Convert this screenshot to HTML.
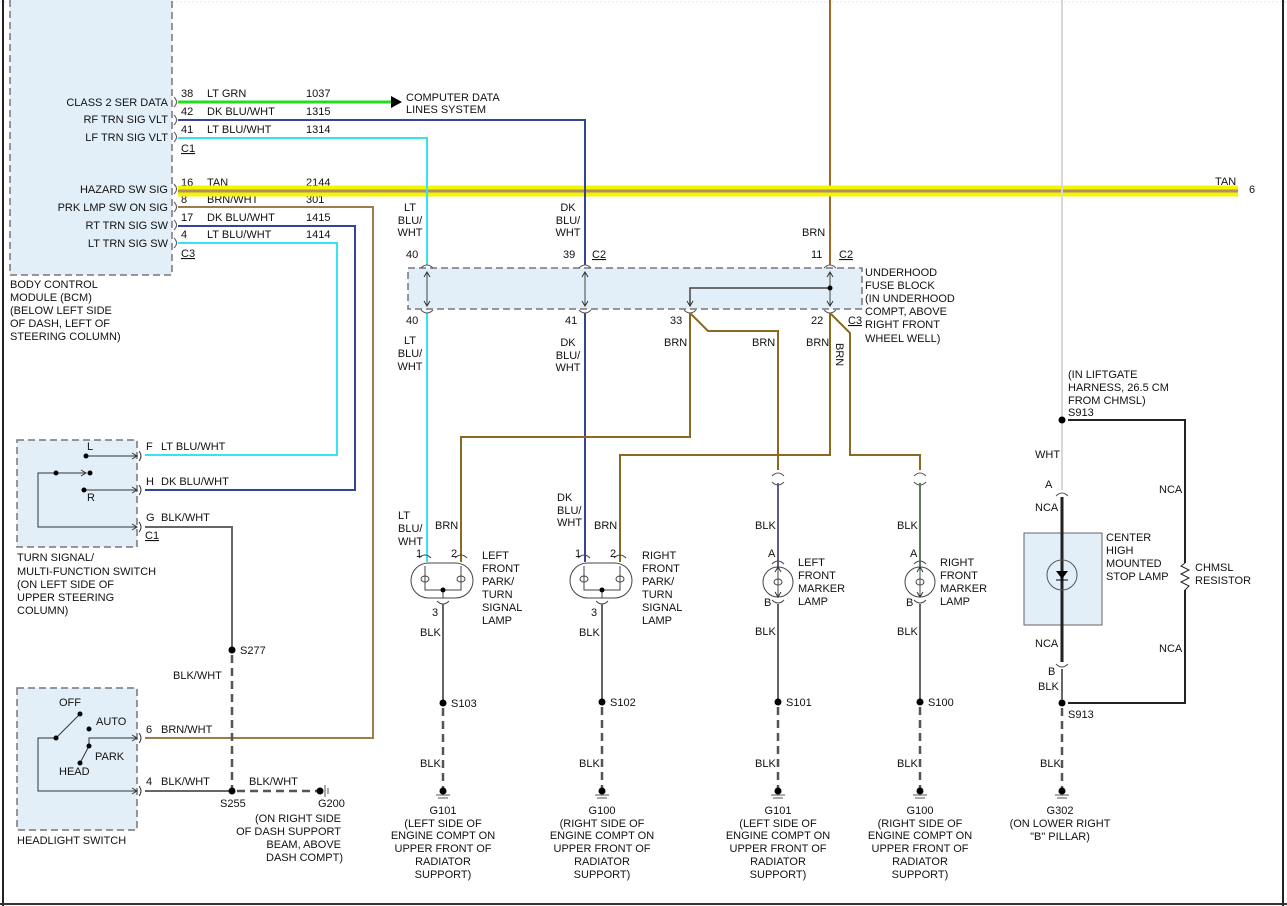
<!DOCTYPE html>
<html><head><meta charset="utf-8"><style>
html,body{margin:0;padding:0;background:#fff;}
svg{display:block;}
text{font-family:"Liberation Sans",sans-serif;font-size:11px;fill:#111;}
.r{text-anchor:end}
.m{text-anchor:middle}
</style></head><body>
<svg width="1287" height="906" viewBox="0 0 1287 906" xmlns="http://www.w3.org/2000/svg">
<defs>
<marker id="ah" markerWidth="8" markerHeight="8" refX="6" refY="4" orient="auto-start-reverse" markerUnits="userSpaceOnUse"><path d="M1,1 L6,4 L1,7" fill="none" stroke="#333" stroke-width="1"/></marker>
</defs>
<line x1="3" y1="0" x2="3" y2="906" stroke="#222" stroke-width="2"/>
<line x1="1283" y1="0" x2="1283" y2="906" stroke="#222" stroke-width="2"/>
<line x1="0" y1="904" x2="1287" y2="904" stroke="#333" stroke-width="2"/>
<line x1="0" y1="2" x2="1287" y2="2" stroke="#e8e0f0" stroke-width="1" stroke-dasharray="2,2"/>

<rect x="10" y="-2" width="162" height="277" fill="#e2eff8" stroke="#777" stroke-width="1.5" stroke-dasharray="7,4"/>
<rect x="408" y="268" width="454" height="41" fill="#e2eff8" stroke="#777" stroke-width="1.5" stroke-dasharray="7,4"/>
<rect x="17" y="440" width="120" height="107" fill="#e2eff8" stroke="#777" stroke-width="1.5" stroke-dasharray="7,4"/>
<rect x="17" y="688" width="120" height="142" fill="#e2eff8" stroke="#777" stroke-width="1.5" stroke-dasharray="7,4"/>
<rect x="1024" y="533" width="78" height="92" fill="#e2eff8" stroke="#666" stroke-width="1"/>

<text x="168" y="106" class="r">CLASS 2 SER DATA</text>
<text x="168" y="123" class="r">RF TRN SIG VLT</text>
<text x="168" y="141" class="r">LF TRN SIG VLT</text>
<text x="168" y="193" class="r">HAZARD SW SIG</text>
<text x="168" y="211" class="r">PRK LMP SW ON SIG</text>
<text x="168" y="229" class="r">RT TRN SIG SW</text>
<text x="168" y="247" class="r">LT TRN SIG SW</text>
<text x="10" y="288">BODY CONTROL</text>
<text x="10" y="301">MODULE (BCM)</text>
<text x="10" y="314">(BELOW LEFT SIDE</text>
<text x="10" y="327">OF DASH, LEFT OF</text>
<text x="10" y="340">STEERING COLUMN)</text>
<g fill="none" stroke="#555" stroke-width="1">
<path d="M174,97 q5,5 0,10"/><path d="M174,115 q5,5 0,10"/><path d="M174,132 q5,5 0,10"/>
<path d="M174,184 q5,5 0,10"/><path d="M174,202 q5,5 0,10"/><path d="M174,220 q5,5 0,10"/><path d="M174,238 q5,5 0,10"/>
</g>
<text x="181" y="97">38</text><text x="207" y="97">LT GRN</text><text x="306" y="97">1037</text>
<text x="181" y="115">42</text><text x="207" y="115">DK BLU/WHT</text><text x="306" y="115">1315</text>
<text x="181" y="133">41</text><text x="207" y="133">LT BLU/WHT</text><text x="306" y="133">1314</text>
<text x="181" y="152" text-decoration="underline">C1</text>
<text x="181" y="186">16</text><text x="207" y="186">TAN</text><text x="306" y="186">2144</text>
<text x="181" y="203">8</text><text x="207" y="203">BRN/WHT</text><text x="306" y="203">301</text>
<text x="181" y="221">17</text><text x="207" y="221">DK BLU/WHT</text><text x="306" y="221">1415</text>
<text x="181" y="238">4</text><text x="207" y="238">LT BLU/WHT</text><text x="306" y="238">1414</text>
<text x="181" y="257" text-decoration="underline">C3</text>

<line x1="830" y1="0" x2="830" y2="265" stroke="#a0692a" stroke-width="2"/>
<line x1="1062" y1="0" x2="1062" y2="418" stroke="#d8d8d8" stroke-width="2"/>

<line x1="178" y1="191" x2="1238" y2="191" stroke="#f5f500" stroke-width="11"/>
<line x1="178" y1="191" x2="1238" y2="191" stroke="#b09060" stroke-width="3"/>
<line x1="1062" y1="185" x2="1062" y2="197" stroke="#d8d8d8" stroke-width="2"/>
<text x="1215" y="185">TAN</text><text x="1249" y="193">6</text>

<line x1="178" y1="102" x2="392" y2="102" stroke="#22dd22" stroke-width="3"/>
<path d="M391,96 L402,102 L391,108 Z" fill="#000"/>
<text x="406" y="101">COMPUTER DATA</text>
<text x="406" y="113">LINES SYSTEM</text>

<polyline points="178,120 585,120 585,265" fill="none" stroke="#334499" stroke-width="2"/>
<line x1="585" y1="313" x2="585" y2="562" stroke="#334499" stroke-width="2"/>
<polyline points="178,138 427,138 427,265" fill="none" stroke="#33e5f0" stroke-width="2"/>
<line x1="427" y1="313" x2="427" y2="562" stroke="#33e5f0" stroke-width="2"/>
<polyline points="178,207 373,207 373,738 145,738" fill="none" stroke="#9a7d4a" stroke-width="2"/>
<polyline points="178,226 355,226 355,490 145,490" fill="none" stroke="#334499" stroke-width="2"/>
<polyline points="178,243 337,243 337,455 145,455" fill="none" stroke="#33e5f0" stroke-width="2"/>

<text x="410" y="211" class="m">LT</text><text x="410" y="224" class="m">BLU/</text><text x="410" y="236" class="m">WHT</text>
<text x="568" y="211" class="m">DK</text><text x="568" y="224" class="m">BLU/</text><text x="568" y="236" class="m">WHT</text>
<text x="802" y="236">BRN</text>
<text x="406" y="258">40</text><text x="563" y="258">39</text><text x="592" y="258" text-decoration="underline">C2</text>
<text x="811" y="258">11</text><text x="839" y="258" text-decoration="underline">C2</text>

<g fill="none" stroke="#555" stroke-width="1">
<path d="M421,268 q6,-6 12,0"/><path d="M579,268 q6,-6 12,0"/><path d="M824,268 q6,-6 12,0"/>
<path d="M421,310 q6,6 12,0"/><path d="M579,310 q6,6 12,0"/><path d="M684,310 q6,6 12,0"/><path d="M824,310 q6,6 12,0"/>
</g>
<g stroke="#444" stroke-width="1" fill="none">
<line x1="427" y1="272" x2="427" y2="306" marker-end="url(#ah)" marker-start="url(#ah)"/>
<line x1="585" y1="272" x2="585" y2="306" marker-end="url(#ah)" marker-start="url(#ah)"/>
<line x1="830" y1="272" x2="830" y2="306" marker-end="url(#ah)" marker-start="url(#ah)"/>
<polyline points="830,288 690,288 690,306" marker-end="url(#ah)" stroke-width="1.5"/>
</g>
<circle cx="830" cy="288" r="2.5" fill="#000"/>
<text x="865" y="276">UNDERHOOD</text><text x="865" y="289">FUSE BLOCK</text><text x="865" y="302">(IN UNDERHOOD</text>
<text x="865" y="315">COMPT, ABOVE</text><text x="865" y="328">RIGHT FRONT</text><text x="865" y="342">WHEEL WELL)</text>
<text x="406" y="324">40</text><text x="565" y="324">41</text><text x="670" y="324">33</text><text x="811" y="324">22</text>
<text x="848" y="324" text-decoration="underline">C3</text>

<g fill="none" stroke="#8a6a22" stroke-width="2">
<polyline points="690,313 708,331 778,331 778,470"/>
<polyline points="690,313 690,437 461,437 461,562"/>
<polyline points="830,313 830,455 620,455 620,562"/>
<polyline points="830,313 850,333 850,455 920,455 920,470"/>
</g>
<text x="410" y="344" class="m">LT</text><text x="410" y="357" class="m">BLU/</text><text x="410" y="370" class="m">WHT</text>
<text x="568" y="346" class="m">DK</text><text x="568" y="359" class="m">BLU/</text><text x="568" y="371" class="m">WHT</text>
<text x="664" y="346">BRN</text><text x="752" y="346">BRN</text><text x="806" y="346">BRN</text>
<text x="0" y="0" transform="translate(836,343) rotate(90)">BRN</text>

<g fill="none" stroke="#555" stroke-width="1">
<path d="M772,476 q6,-6 12,0"/><path d="M772,482 q6,6 12,0"/>
<path d="M914,476 q6,-6 12,0"/><path d="M914,482 q6,6 12,0"/>
</g>
<line x1="778" y1="483" x2="778" y2="567" stroke="#6a5a8a" stroke-width="2"/>
<line x1="920" y1="483" x2="920" y2="567" stroke="#5a7a5a" stroke-width="2"/>

<g fill="none" stroke="#444" stroke-width="1">
<rect x="411" y="563" width="62" height="35" rx="17.5"/>
<rect x="570" y="563" width="62" height="35" rx="17.5"/>
<path d="M419,558 q6,-6 12,0"/><path d="M455,558 q6,-6 12,0"/>
<path d="M578,558 q6,-6 12,0"/><path d="M614,558 q6,-6 12,0"/>
<path d="M437,601 q6,6 12,0"/><path d="M596,601 q6,6 12,0"/>
<polyline points="425,566 425,590 461,590 461,566"/>
<polyline points="584,566 584,590 620,590 620,566"/>
<ellipse cx="425" cy="579" rx="4" ry="3"/><ellipse cx="461" cy="579" rx="4" ry="3"/>
<ellipse cx="584" cy="579" rx="4" ry="3"/><ellipse cx="620" cy="579" rx="4" ry="3"/>
<line x1="443" y1="590" x2="443" y2="598"/><line x1="602" y1="590" x2="602" y2="598"/>
<circle cx="778" cy="582" r="15"/><circle cx="920" cy="582" r="15"/>
<ellipse cx="778" cy="582" rx="4" ry="3"/><ellipse cx="920" cy="582" rx="4" ry="3"/>
<path d="M772,564 q6,-6 12,0"/><path d="M772,600 q6,6 12,0"/>
<path d="M914,564 q6,-6 12,0"/><path d="M914,600 q6,6 12,0"/>
<line x1="778" y1="567" x2="778" y2="597" marker-end="url(#ah)" marker-start="url(#ah)"/>
<line x1="920" y1="567" x2="920" y2="597" marker-end="url(#ah)" marker-start="url(#ah)"/>
</g>
<circle cx="443" cy="590" r="2.5" fill="#000"/><circle cx="602" cy="590" r="2.5" fill="#000"/>

<text x="398" y="519">LT</text><text x="398" y="532">BLU/</text><text x="398" y="545">WHT</text><text x="435" y="529">BRN</text>
<text x="557" y="501">DK</text><text x="557" y="514">BLU/</text><text x="557" y="526">WHT</text><text x="594" y="529">BRN</text>
<text x="416" y="557">1</text><text x="451" y="557">2</text><text x="575" y="557">1</text><text x="610" y="557">2</text>
<text x="432" y="616">3</text><text x="591" y="616">3</text>
<text x="482" y="559">LEFT</text><text x="482" y="572">FRONT</text><text x="482" y="585">PARK/</text><text x="482" y="598">TURN</text><text x="482" y="611">SIGNAL</text><text x="482" y="624">LAMP</text>
<text x="642" y="559">RIGHT</text><text x="642" y="572">FRONT</text><text x="642" y="585">PARK/</text><text x="642" y="598">TURN</text><text x="642" y="611">SIGNAL</text><text x="642" y="624">LAMP</text>
<text x="755" y="529">BLK</text><text x="897" y="529">BLK</text>
<text x="768" y="557">A</text><text x="910" y="557">A</text>
<text x="764" y="606">B</text><text x="906" y="606">B</text>
<text x="798" y="566">LEFT</text><text x="798" y="579">FRONT</text><text x="798" y="592">MARKER</text><text x="798" y="605">LAMP</text>
<text x="940" y="566">RIGHT</text><text x="940" y="579">FRONT</text><text x="940" y="592">MARKER</text><text x="940" y="605">LAMP</text>

<g stroke="#666" stroke-width="2">
<line x1="443" y1="604" x2="443" y2="703"/><line x1="602" y1="604" x2="602" y2="702"/>
<line x1="778" y1="604" x2="778" y2="702"/><line x1="920" y1="604" x2="920" y2="702"/>
</g>
<g stroke="#555" stroke-width="2.5" stroke-dasharray="8,5">
<line x1="443" y1="708" x2="443" y2="788"/><line x1="602" y1="707" x2="602" y2="788"/>
<line x1="778" y1="707" x2="778" y2="788"/><line x1="920" y1="707" x2="920" y2="788"/>
<line x1="1062" y1="708" x2="1062" y2="788"/>
</g>
<g fill="#000">
<circle cx="443" cy="703" r="3.5"/><circle cx="602" cy="702" r="3.5"/><circle cx="778" cy="702" r="3.5"/><circle cx="920" cy="702" r="3.5"/>
<circle cx="443" cy="791" r="3.5"/><circle cx="602" cy="791" r="3.5"/><circle cx="778" cy="791" r="3.5"/><circle cx="920" cy="791" r="3.5"/><circle cx="1062" cy="791" r="3.5"/>
</g>
<g stroke="#555" stroke-width="1">
<line x1="436" y1="795" x2="450" y2="795"/><line x1="438" y1="798" x2="448" y2="798"/>
<line x1="595" y1="795" x2="609" y2="795"/><line x1="597" y1="798" x2="607" y2="798"/>
<line x1="771" y1="795" x2="785" y2="795"/><line x1="773" y1="798" x2="783" y2="798"/>
<line x1="913" y1="795" x2="927" y2="795"/><line x1="915" y1="798" x2="925" y2="798"/>
<line x1="1055" y1="795" x2="1069" y2="795"/><line x1="1057" y1="798" x2="1067" y2="798"/>
</g>
<text x="420" y="636">BLK</text><text x="579" y="636">BLK</text><text x="755" y="635">BLK</text><text x="897" y="635">BLK</text>
<text x="451" y="707">S103</text><text x="610" y="706">S102</text><text x="786" y="706">S101</text><text x="928" y="706">S100</text>
<text x="420" y="767">BLK</text><text x="579" y="767">BLK</text><text x="755" y="767">BLK</text><text x="897" y="767">BLK</text>
<text x="443" y="814" class="m">G101</text><text x="443" y="827" class="m">(LEFT SIDE OF</text><text x="443" y="839" class="m">ENGINE COMPT ON</text><text x="443" y="852" class="m">UPPER FRONT OF</text><text x="443" y="865" class="m">RADIATOR</text><text x="443" y="878" class="m">SUPPORT)</text>
<text x="602" y="814" class="m">G100</text><text x="602" y="827" class="m">(RIGHT SIDE OF</text><text x="602" y="839" class="m">ENGINE COMPT ON</text><text x="602" y="852" class="m">UPPER FRONT OF</text><text x="602" y="865" class="m">RADIATOR</text><text x="602" y="878" class="m">SUPPORT)</text>
<text x="778" y="814" class="m">G101</text><text x="778" y="827" class="m">(LEFT SIDE OF</text><text x="778" y="839" class="m">ENGINE COMPT ON</text><text x="778" y="852" class="m">UPPER FRONT OF</text><text x="778" y="865" class="m">RADIATOR</text><text x="778" y="878" class="m">SUPPORT)</text>
<text x="920" y="814" class="m">G100</text><text x="920" y="827" class="m">(RIGHT SIDE OF</text><text x="920" y="839" class="m">ENGINE COMPT ON</text><text x="920" y="852" class="m">UPPER FRONT OF</text><text x="920" y="865" class="m">RADIATOR</text><text x="920" y="878" class="m">SUPPORT)</text>
<text x="1060" y="814" class="m">G302</text><text x="1060" y="827" class="m">(ON LOWER RIGHT</text><text x="1060" y="840" class="m">"B" PILLAR)</text>

<text x="1068" y="378">(IN LIFTGATE</text><text x="1068" y="391">HARNESS, 26.5 CM</text><text x="1068" y="404">FROM CHMSL)</text>
<text x="1068" y="416">S913</text>
<circle cx="1062" cy="420" r="3.5" fill="#000"/>
<polyline points="1068,420 1185,420 1185,563" fill="none" stroke="#222" stroke-width="2"/>
<polyline points="1185,563 1181,566 1189,570 1181,574 1189,578 1181,582 1189,586 1185,590" fill="none" stroke="#222" stroke-width="1"/>
<polyline points="1185,590 1185,703 1068,703" fill="none" stroke="#222" stroke-width="2"/>
<circle cx="1062" cy="703" r="3.5" fill="#000"/>
<line x1="1062" y1="424" x2="1062" y2="490" stroke="#d8d8d8" stroke-width="2"/>
<g fill="none" stroke="#555" stroke-width="1"><path d="M1056,496 q6,-6 12,0"/><path d="M1056,664 q6,6 12,0"/></g>
<line x1="1062" y1="497" x2="1062" y2="662" stroke="#222" stroke-width="3"/>
<line x1="1062" y1="669" x2="1062" y2="700" stroke="#666" stroke-width="2"/>
<circle cx="1062" cy="575" r="15" fill="none" stroke="#555" stroke-width="1"/>
<path d="M1056,571 L1068,571 L1062,579 Z" fill="#000"/><line x1="1056" y1="580" x2="1068" y2="580" stroke="#000"/>
<text x="1035" y="458">WHT</text><text x="1045" y="488">A</text><text x="1035" y="511">NCA</text>
<text x="1106" y="541">CENTER</text><text x="1106" y="554">HIGH</text><text x="1106" y="567">MOUNTED</text><text x="1106" y="580">STOP LAMP</text>
<text x="1159" y="493">NCA</text><text x="1159" y="652">NCA</text>
<text x="1195" y="571">CHMSL</text><text x="1195" y="584">RESISTOR</text>
<text x="1035" y="647">NCA</text><text x="1048" y="675">B</text><text x="1038" y="690">BLK</text>
<text x="1068" y="718">S913</text><text x="1040" y="767">BLK</text>

<g fill="none" stroke="#333" stroke-width="1">
<polyline points="86,456 137,456" marker-end="url(#ah)"/>
<polyline points="84,490 137,490" marker-end="url(#ah)"/>
<polyline points="56,473 38,473 38,527 137,527" marker-end="url(#ah)"/>
<line x1="56" y1="473" x2="86" y2="473" marker-end="url(#ah)"/>
<path d="M139,451 q4,5 0,10"/><path d="M139,485 q4,5 0,10"/><path d="M139,522 q4,5 0,10"/>
</g>
<g fill="#000"><circle cx="86" cy="456" r="2.5"/><circle cx="56" cy="473" r="2.5"/><circle cx="90" cy="473" r="2.5"/><circle cx="84" cy="490" r="2.5"/></g>
<text x="87" y="450">L</text><text x="87" y="501">R</text>
<text x="146" y="450">F</text><text x="161" y="450">LT BLU/WHT</text>
<text x="146" y="485">H</text><text x="161" y="485">DK BLU/WHT</text>
<text x="146" y="521">G</text><text x="161" y="521">BLK/WHT</text>
<text x="145" y="539" text-decoration="underline">C1</text>
<text x="17" y="561">TURN SIGNAL/</text><text x="17" y="575">MULTI-FUNCTION SWITCH</text><text x="17" y="588">(ON LEFT SIDE OF</text><text x="17" y="601">UPPER STEERING</text><text x="17" y="614">COLUMN)</text>
<polyline points="145,527 232,527 232,650" fill="none" stroke="#666" stroke-width="2"/>
<circle cx="232" cy="650" r="3.5" fill="#000"/>
<text x="240" y="654">S277</text>
<text x="173" y="679">BLK/WHT</text>
<line x1="232" y1="655" x2="232" y2="788" stroke="#555" stroke-width="2.5" stroke-dasharray="8,5"/>

<g fill="none" stroke="#333" stroke-width="1">
<line x1="56" y1="738" x2="80" y2="714"/>
<polyline points="56,738 38,738 38,791 137,791" marker-end="url(#ah)"/>
<polyline points="89,746 89,738 137,738" marker-end="url(#ah)"/>
<line x1="80" y1="763" x2="89" y2="746"/>
<path d="M139,733 q4,5 0,10"/><path d="M139,786 q4,5 0,10"/>
</g>
<g fill="#000"><circle cx="80" cy="714" r="2.5"/><circle cx="56" cy="738" r="2.5"/><circle cx="89" cy="729" r="2.5"/><circle cx="89" cy="746" r="2.5"/><circle cx="80" cy="763" r="2.5"/></g>
<text x="59" y="706">OFF</text><text x="96" y="725">AUTO</text><text x="95" y="760">PARK</text><text x="59" y="775">HEAD</text>
<text x="146" y="733">6</text><text x="161" y="733">BRN/WHT</text>
<text x="146" y="785">4</text><text x="161" y="785">BLK/WHT</text>
<text x="17" y="844">HEADLIGHT SWITCH</text>
<line x1="145" y1="791" x2="232" y2="791" stroke="#666" stroke-width="2"/>
<circle cx="232" cy="791" r="3.5" fill="#000"/>
<line x1="237" y1="791" x2="318" y2="791" stroke="#555" stroke-width="2.5" stroke-dasharray="8,5"/>
<circle cx="320" cy="791" r="3.5" fill="#000"/>
<line x1="325" y1="785" x2="325" y2="797" stroke="#555"/><line x1="328" y1="788" x2="328" y2="794" stroke="#555"/>
<text x="249" y="785">BLK/WHT</text>
<text x="220" y="807">S255</text><text x="318" y="807">G200</text>
<text x="341" y="822" class="r">(ON RIGHT SIDE</text><text x="341" y="835" class="r">OF DASH SUPPORT</text><text x="341" y="848" class="r">BEAM, ABOVE</text><text x="343" y="861" class="r">DASH COMPT)</text>
</svg>
</body></html>
